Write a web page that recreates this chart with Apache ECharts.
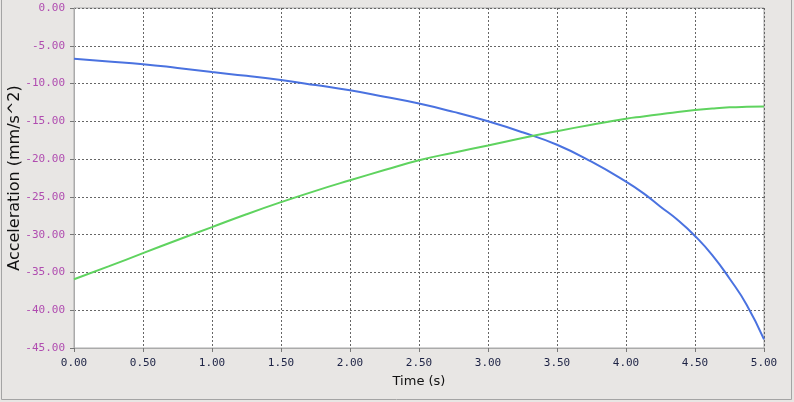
<!DOCTYPE html>
<html>
<head>
<meta charset="utf-8">
<script src="https://cdn.jsdelivr.net/npm/echarts@6/dist/echarts.min.js"></script>
<style>
html,body{margin:0;padding:0;background:#e8e6e4;}
#c{width:794px;height:402px;}
</style>
</head>
<body>
<div id="c"></div>
<script>
const times = [0,0.25,0.5,0.75,1.0,1.25,1.5,1.75,2.0,2.25,2.5,2.75,3.0,3.25,3.5,3.75,4.0,4.125,4.25,4.375,4.5,4.625,4.75,4.875,5.0];
const blueValues = [-6.72,-7.07,-7.43,-7.93,-8.48,-8.98,-9.54,-10.2,-10.9,-11.75,-12.65,-13.75,-15.0,-16.45,-18.1,-20.34,-22.98,-24.5,-26.3,-28.06,-30.17,-32.7,-35.8,-39.3,-43.85];
const greenValues = [-35.9,-34.2,-32.45,-30.7,-29.0,-27.3,-25.7,-24.2,-22.8,-21.45,-20.15,-19.15,-18.2,-17.2,-16.3,-15.45,-14.65,-14.35,-14.05,-13.75,-13.5,-13.3,-13.15,-13.08,-13.05];
const xTicks = {min:0, max:5, interval:0.5};
const yTicks = {min:-45, max:0, interval:5};
const xName = 'Time (s)';
const yName = 'Acceleration (mm/s^2)';

const pair = (vals) => times.map((t,i)=>[t, vals[i]]);
const chart = echarts.init(document.getElementById('c'));
const split = {show:true, lineStyle:{color:'#666666', type:[2,2], width:1}};
chart.setOption({
  animation:false,
  backgroundColor:'#e8e6e4',
  grid:{left:74, right:30, top:8, bottom:54, containLabel:false, outerBoundsMode:'none', show:true, backgroundColor:'#ffffff', borderColor:'#aaaaaa', borderWidth:1},
  graphic:[{type:'rect', silent:true, z:-1, shape:{x:1.5, y:-5, width:790, height:404.5}, style:{fill:'none', stroke:'#a4a4a4', lineWidth:1}}],
  xAxis:{type:'value', min:xTicks.min, max:xTicks.max, interval:xTicks.interval,
    name:xName, nameLocation:'middle', nameGap:27, nameMoveOverlap:false,
    nameTextStyle:{color:'#111', fontSize:13, fontFamily:'DejaVu Sans'},
    axisLine:{show:true, onZero:false, lineStyle:{color:'#aaaaaa'}},
    axisTick:{show:true, length:4, lineStyle:{color:'#777'}},
    axisLabel:{margin:10, color:'#1c2244', fontSize:11, fontFamily:'DejaVu Sans Mono', formatter:v=>v.toFixed(2)},
    splitLine:split},
  yAxis:{type:'value', min:yTicks.min, max:yTicks.max, interval:yTicks.interval,
    name:yName, nameLocation:'middle', nameGap:51, nameMoveOverlap:false,
    nameTextStyle:{color:'#111', fontSize:16, fontFamily:'DejaVu Sans'},
    axisLine:{show:true, onZero:false, lineStyle:{color:'#aaaaaa'}},
    axisTick:{show:true, length:4, lineStyle:{color:'#777'}},
    axisLabel:{margin:9, color:'#b04cb0', fontSize:11, fontFamily:'DejaVu Sans Mono', formatter:v=>v.toFixed(2)},
    splitLine:split},
  series:[
    {type:'line', data:pair(blueValues), smooth:true, showSymbol:false, lineStyle:{color:'#4a72e0', width:2}},
    {type:'line', data:pair(greenValues), smooth:true, showSymbol:false, lineStyle:{color:'#5fd35f', width:2}}
  ]
});
</script>
</body>
</html>
